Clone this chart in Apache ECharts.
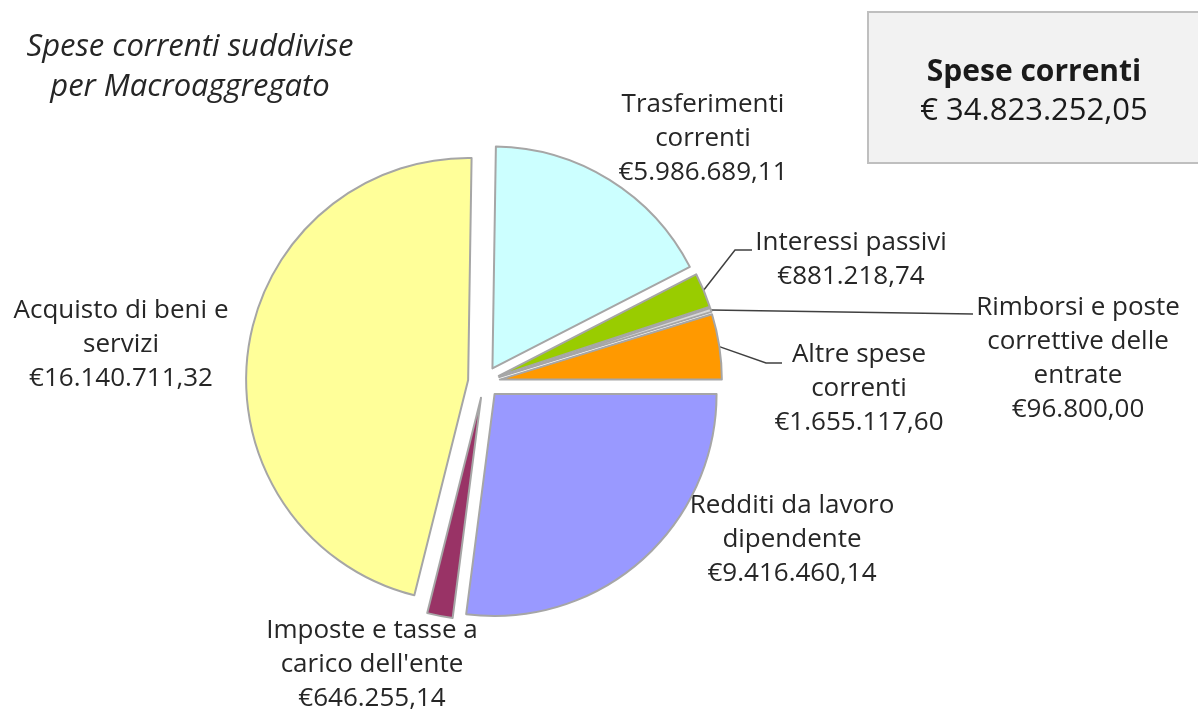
<!DOCTYPE html>
<html>
<head>
<meta charset="utf-8">
<style>
  html, body { margin: 0; padding: 0; background: #fff; }
  #chart { width: 1198px; height: 711px; }
</style>
<script src="https://cdn.jsdelivr.net/npm/echarts@6/dist/echarts.min.js"></script>
</head>
<body>
<div id="chart"></div>
<script>
// data, clockwise from 3 o'clock
var categories = [
  "Redditi da lavoro\ndipendente",
  "Imposte e tasse a\ncarico dell'ente",
  "Acquisto di beni e\nservizi",
  "Trasferimenti\ncorrenti",
  "Interessi passivi",
  "Rimborsi e poste\ncorrettive delle\nentrate",
  "Altre spese\ncorrenti"
];
var values = [9416460.14, 646255.14, 16140711.32, 5986689.11, 881218.74, 96800.00, 1655117.60];
var total = 34823252.05;

var colors = ["#9999ff", "#993366", "#ffff99", "#ccffff", "#99cc00", "#d9d9d9", "#ff9900"];
var withLine = [false, false, false, false, true, true, true];
// label block centres
var labelPos = [[792, 540], [372, 665], [121, 345], [703, 139], [851, 260], [1078, 359], [859, 389]];
// leader line bends / ends next to the label text
var lineEnds = {
  4: [[735, 250], [752, 250]],
  5: [[973, 314]],
  6: [[766, 363], [782, 363]]
};

var FONT = "'Open Sans', 'Noto Sans', sans-serif";
var CENTER = [484, 382];
var RADIUS = 222;
var OFFSET = 16;

function euro(v) {
  var s = v.toFixed(2).split(".");
  var int = s[0].replace(/\B(?=(\d{3})+(?!\d))/g, ".");
  return int + "," + s[1];
}

var chart = echarts.init(document.getElementById("chart"));

// exploded slices
var sliceData = categories.map(function (c, i) {
  return { name: c, value: values[i], selected: true, itemStyle: { color: colors[i] } };
});

// same slices, invisible, only carrying the labels
var labelData = categories.map(function (c, i) {
  return { name: c, value: values[i], labelLine: { show: withLine[i] } };
});

chart.setOption({
  backgroundColor: "#ffffff",
  animation: false,
  title: {
    text: "Spese correnti suddivise\nper Macroaggregato",
    left: 185,
    top: 22,
    textAlign: "center",
    textStyle: {
      fontFamily: FONT,
      fontStyle: "italic",
      fontWeight: "normal",
      fontSize: 31,
      lineHeight: 40,
      color: "#262626"
    }
  },
  graphic: [
    {
      type: "rect",
      shape: { x: 868, y: 12, width: 340, height: 151 },
      style: { fill: "#f2f2f2", stroke: "#bfbfbf", lineWidth: 2 }
    },
    {
      type: "text",
      x: 1034, y: 72,
      style: {
        text: "Spese correnti",
        fontFamily: FONT, fontSize: 30, fontWeight: "bold",
        fill: "#1a1a1a", align: "center", verticalAlign: "middle"
      }
    },
    {
      type: "text",
      x: 1034, y: 111,
      style: {
        text: "€ " + euro(total),
        fontFamily: FONT, fontSize: 31,
        fill: "#1a1a1a", align: "center", verticalAlign: "middle"
      }
    }
  ],
  series: [
    {
      type: "pie",
      z: 1,
      silent: true,
      center: CENTER,
      radius: RADIUS,
      startAngle: 0,
      clockwise: true,
      avoidLabelOverlap: false,
      itemStyle: { color: "rgba(0,0,0,0)", borderWidth: 0 },
      emphasis: { disabled: true },
      label: {
        show: true,
        position: "outside",
        formatter: function (p) { return p.name + "\n€" + euro(p.value); },
        fontFamily: FONT,
        fontSize: 26,
        lineHeight: 34,
        color: "#262626",
        align: "center"
      },
      labelLine: {
        show: true,
        length: 20,
        length2: 15,
        lineStyle: { color: "#404040", width: 1.5 }
      },
      labelLayout: function (p) {
        var i = p.dataIndex;
        var pos = labelPos[i];
        var out = { x: pos[0], y: pos[1], align: "center", verticalAlign: "middle" };
        if (lineEnds[i] && p.labelLinePoints) {
          // start the line on the exploded slice's outer edge
          var s = p.labelLinePoints[0];
          var k = (RADIUS + OFFSET) / RADIUS;
          var start = [CENTER[0] + (s[0] - CENTER[0]) * k, CENTER[1] + (s[1] - CENTER[1]) * k];
          out.labelLinePoints = [start].concat(lineEnds[i]);
        }
        return out;
      },
      data: labelData
    },
    {
      type: "pie",
      z: 2,
      center: CENTER,
      radius: RADIUS,
      startAngle: 0,
      clockwise: true,
      selectedMode: "multiple",
      selectedOffset: OFFSET,
      itemStyle: { borderColor: "#a6a6a6", borderWidth: 2 },
      select: { itemStyle: { borderColor: "#a6a6a6", borderWidth: 2 } },
      emphasis: { disabled: true },
      label: { show: false },
      labelLine: { show: false },
      data: sliceData
    }
  ]
});
</script>
</body>
</html>
